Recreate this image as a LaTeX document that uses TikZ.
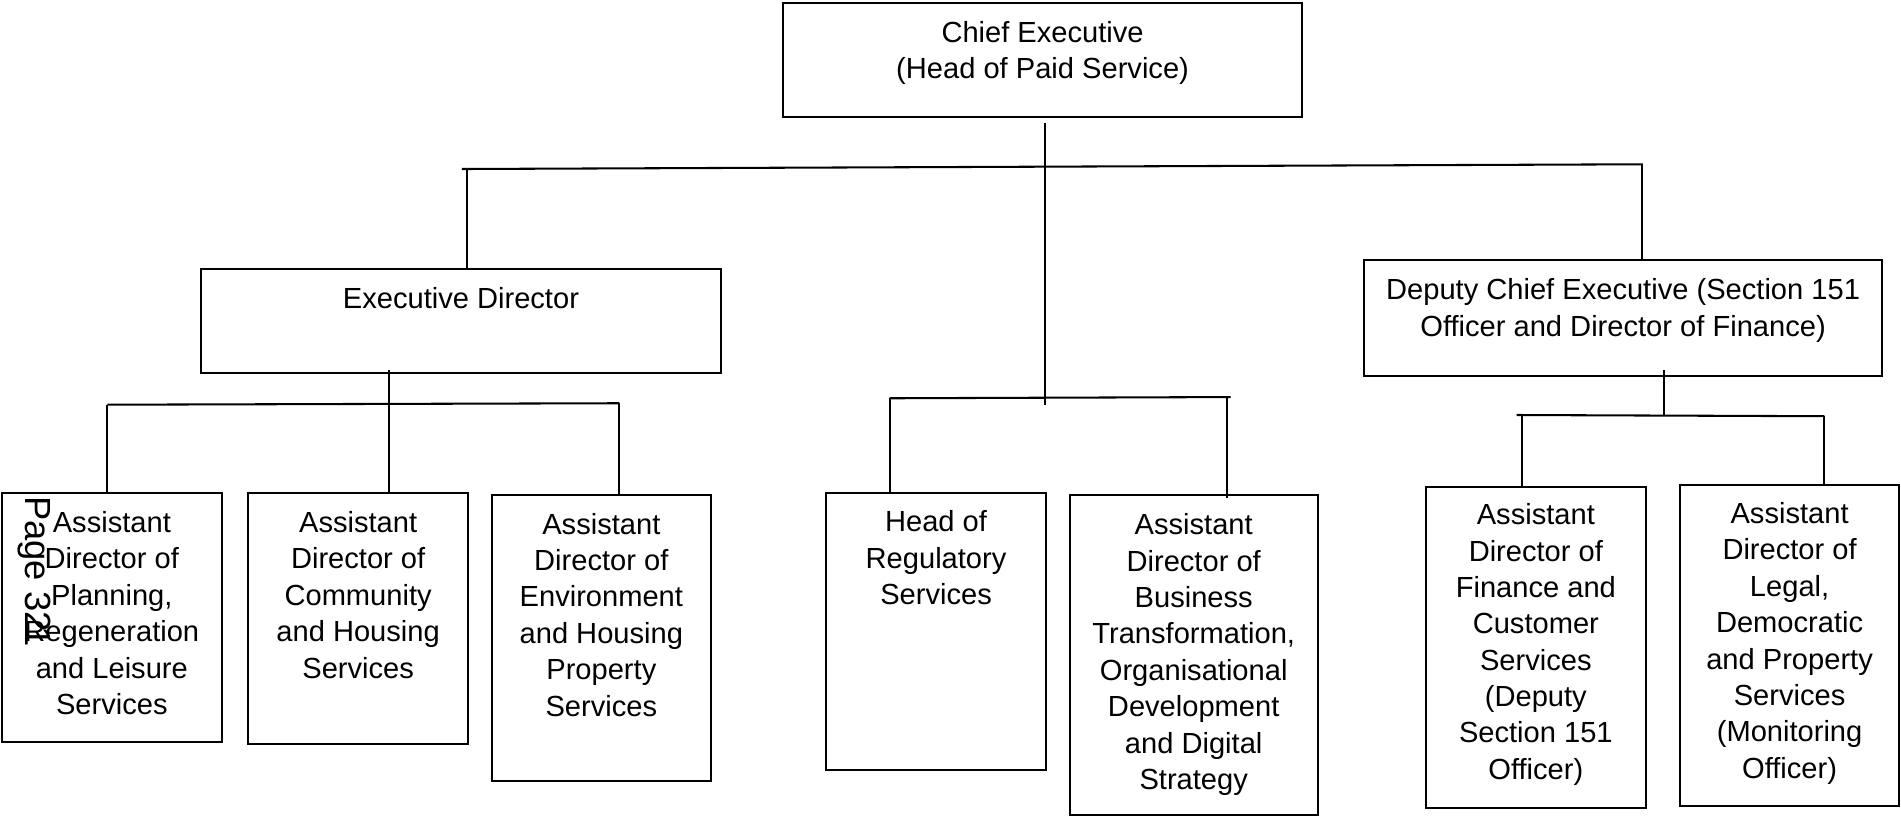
\documentclass[tikz,border=0pt]{standalone}
\usepackage{fontspec}
\setmainfont{Liberation Sans}
\usetikzlibrary{fit}
\begin{document}
\begin{tikzpicture}[x=1pt,y=-1pt,
  orgbox/.style={draw=black, line width=1.7pt, inner sep=0pt, rectangle},
  orgtxt/.style={anchor=north, align=center, inner sep=0pt, font=\fontsize{24}{30}\selectfont},
  conn/.style={draw=black, line width=1.7pt}]
\useasboundingbox (0,0) rectangle (1568,673);

% boxes
\node[orgbox, fit={(646.2,2.2) (1073.7,96.2)}] (ce) {};
\node[orgbox, fit={(166,222) (594.4,307.8)}] (ed) {};
\node[orgbox, fit={(1125,214.5) (1552.5,310)}] (dce) {};
\node[orgbox, fit={(1.7,406.9) (182.8,611.8)}] (l1) {};
\node[orgbox, fit={(204.7,406.9) (386.1,614)}] (l2) {};
\node[orgbox, fit={(405.7,408.3) (586.3,644.2)}] (l3) {};
\node[orgbox, fit={(681.4,406.4) (862.8,635)}] (hr) {};
\node[orgbox, fit={(882.2,408.3) (1087,672)}] (bt) {};
\node[orgbox, fit={(1176.2,401.4) (1357.4,666.7)}] (fc) {};
\node[orgbox, fit={(1386,400) (1566.2,664.5)}] (ld) {};

% texts
\node[orgtxt] (ce-t) at ([yshift=-13.5pt]ce.north) {\rule{0pt}{20pt}Chief Executive\\(Head of Paid Service)};
\node[orgtxt] (ed-t) at ([yshift=-13.5pt]ed.north) {\rule{0pt}{20pt}Executive Director};
\node[orgtxt] (dce-t) at ([yshift=-13.5pt]dce.north) {\rule{0pt}{20pt}Deputy Chief Executive (Section 151\\Officer and Director of Finance)};
\node[orgtxt] (l1-t) at ([yshift=-13pt]l1.north) {\rule{0pt}{20pt}Assistant\\Director of\\Planning,\\Regeneration\\and Leisure\\Services};
\node[orgtxt] (l2-t) at ([yshift=-13pt]l2.north) {\rule{0pt}{20pt}Assistant\\Director of\\Community\\and Housing\\Services};
\node[orgtxt] (l3-t) at ([yshift=-13pt]l3.north) {\rule{0pt}{20pt}Assistant\\Director of\\Environment\\and Housing\\Property\\Services};
\node[orgtxt] (hr-t) at ([yshift=-13pt]hr.north) {\rule{0pt}{20pt}Head of\\Regulatory\\Services};
\node[orgtxt] (bt-t) at ([yshift=-13.5pt]bt.north) {\rule{0pt}{20pt}Assistant\\Director of\\Business\\Transformation,\\Organisational\\Development\\and Digital\\Strategy};
\node[orgtxt] (fc-t) at ([yshift=-12pt]fc.north) {\rule{0pt}{20pt}Assistant\\Director of\\Finance and\\Customer\\Services\\(Deputy\\Section 151\\Officer)};
\node[orgtxt] (ld-t) at ([yshift=-12.5pt]ld.north) {\rule{0pt}{20pt}Assistant\\Director of\\Legal,\\Democratic\\and Property\\Services\\(Monitoring\\Officer)};

% page stamp
\node[rotate=-90, anchor=base west, inner sep=0pt, font=\fontsize{30}{36}\selectfont] (pg) at (21,409) {Page 32\kern-0.15em 1};

% connector coordinates
\coordinate (tb-l) at (381,139.4);
\coordinate (tb-r) at (1355,135.5);
\coordinate (ed-drop) at (385.5,139.2);
\coordinate (dce-drop) at (1354.5,135.5);
\coordinate (mid-trunk) at (861.8,334);
\coordinate (ed-trunk) at (321,305);
\coordinate (lb-l) at (88.5,333.8);
\coordinate (lb-r) at (510.8,332.6);
\coordinate (mb-l) at (733.8,328.5);
\coordinate (mb-r) at (1015,327.5);
\coordinate (bt-drop) at (1011.8,327.6);
\coordinate (dce-trunk) at (1372.5,305);
\coordinate (rb-l) at (1251,342.3);
\coordinate (rb-r) at (1504.8,343.3);
\coordinate (fc-drop) at (1255.7,342.4);

% connectors
\draw[conn] (tb-l) -- (tb-r);
\draw[conn] ([yshift=-4pt]ce.south -| mid-trunk) -- (mid-trunk);
\draw[conn] (ed-drop) -- (ed-drop |- ed.north);
\draw[conn] (dce-drop) -- (dce-drop |- dce.north);
\draw[conn] (ed-trunk) -- (ed-trunk |- l2.north);
\draw[conn] (lb-l) -- (lb-r);
\draw[conn] (lb-l) -- (lb-l |- l1.north);
\draw[conn] (lb-r) -- (lb-r |- l3.north);
\draw[conn] (mb-l) -- (mb-r);
\draw[conn] (mb-l) -- (mb-l |- hr.north);
\draw[conn] (bt-drop) -- ([yshift=-3pt]bt-drop |- bt.north);
\draw[conn] (dce-trunk) -- (dce-trunk |- rb-r);
\draw[conn] (rb-l) -- (rb-r);
\draw[conn] (fc-drop) -- (fc-drop |- fc.north);
\draw[conn] (rb-r) -- (rb-r |- ld.north);
\end{tikzpicture}
\end{document}
